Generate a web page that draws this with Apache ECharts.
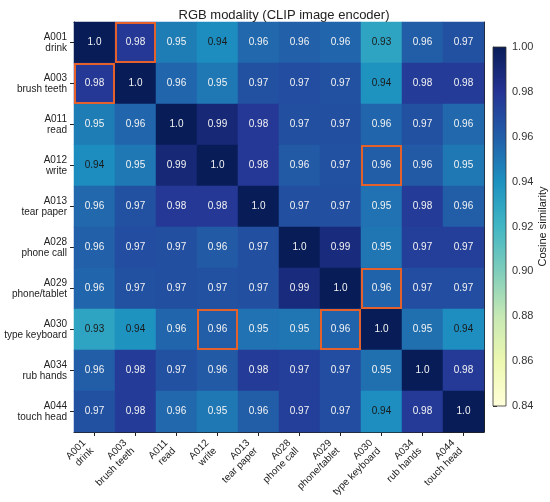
<!DOCTYPE html>
<html>
<head>
<meta charset="utf-8">
<script src="https://cdn.jsdelivr.net/npm/echarts@6/dist/echarts.min.js"></script>
<style>
html,body{margin:0;padding:0;background:#fff;}
#chart{width:550px;height:502px;}
</style>
</head>
<body>
<div id="chart"></div>
<script>
// ---- Data ----
const codes = ['A001','A003','A011','A012','A013','A028','A029','A030','A034','A044'];
const names = ['drink','brush teeth','read','write','tear paper','phone call','phone/tablet','type keyboard','rub hands','touch head'];
const rowA001 = [1.0, 0.978, 0.948, 0.942, 0.956, 0.959, 0.957, 0.930, 0.960, 0.966];
const rowA003 = [0.978, 1.0, 0.957, 0.950, 0.966, 0.968, 0.966, 0.939, 0.976, 0.976];
const rowA011 = [0.948, 0.957, 1.0, 0.990, 0.978, 0.967, 0.967, 0.957, 0.966, 0.956];
const rowA012 = [0.942, 0.950, 0.990, 1.0, 0.978, 0.962, 0.966, 0.960, 0.962, 0.950];
const rowA013 = [0.956, 0.966, 0.978, 0.978, 1.0, 0.967, 0.967, 0.952, 0.976, 0.960];
const rowA028 = [0.959, 0.968, 0.967, 0.962, 0.967, 1.0, 0.988, 0.951, 0.975, 0.975];
const rowA029 = [0.957, 0.966, 0.967, 0.966, 0.967, 0.988, 1.0, 0.958, 0.968, 0.968];
const rowA030 = [0.930, 0.939, 0.957, 0.960, 0.952, 0.951, 0.958, 1.0, 0.953, 0.941];
const rowA034 = [0.960, 0.976, 0.966, 0.962, 0.976, 0.975, 0.968, 0.953, 1.0, 0.977];
const rowA044 = [0.966, 0.976, 0.956, 0.950, 0.960, 0.975, 0.968, 0.941, 0.977, 1.0];
const matrix = [rowA001,rowA003,rowA011,rowA012,rowA013,rowA028,rowA029,rowA030,rowA034,rowA044];
// highlighted cells: [column code, row code]
const highlights = [['A003','A001'],['A001','A003'],['A030','A012'],['A030','A029'],['A012','A030'],['A029','A030']];
const cbTicks = [0.84,0.86,0.88,0.90,0.92,0.94,0.96,0.98,1.00];
const cmap = ['#ffffd9','#edf8b1','#c7e9b4','#7fcdbb','#41b6c4','#1d91c0','#225ea8','#253494','#081d58'];
const vmin = 0.84, vmax = 1.0;

// ---- Build ----
const labels = codes.map((c,i)=>c+'\n'+names[i]);
const fmt = v => { const r = Number(v.toFixed(2)); return r === 1 ? '1.0' : r.toFixed(2); };
const heatData = [];
matrix.forEach((row, ri) => row.forEach((v, ci) => {
  heatData.push({value:[ci, ri, v], label:{color: v < 0.945 ? '#1a1a1a' : '#f4f4f4'}});
}));
const hlData = highlights.map(h => [codes.indexOf(h[0]), codes.indexOf(h[1])]);
const FONT = '"Liberation Sans", Arial, sans-serif';
const ink = '#222';

const chart = echarts.init(document.getElementById('chart'), null, {renderer:'canvas'});
chart.setOption({
  animation:false,
  backgroundColor:'#fff',
  textStyle:{fontFamily:FONT},
  title:{text:'RGB modality (CLIP image encoder)', left:279, top:4, textAlign:'center',
    textStyle:{fontSize:13, fontWeight:'normal', color:ink, fontFamily:FONT}},
  grid:[
    {left:74, top:22, width:410, height:410, outerBoundsMode:'none', containLabel:false},
    {left:493, top:47, width:13, height:359, outerBoundsMode:'none', containLabel:false}
  ],
  xAxis:[
    {type:'category', gridIndex:0, data:labels, position:'bottom',
     axisLine:{show:true, lineStyle:{color:ink, width:1}},
     axisTick:{show:true, alignWithLabel:true, length:4, lineStyle:{color:ink}},
     axisLabel:{rotate:45, fontSize:10, lineHeight:11, color:ink, margin:7, interval:0, fontFamily:FONT, padding:[0,9,0,0]},
     splitLine:{show:false}},
    {type:'category', gridIndex:0, data:labels, position:'top',
     axisLine:{show:true, lineStyle:{color:ink, width:1}}, axisTick:{show:false}, axisLabel:{show:false}},
    {type:'value', gridIndex:1, min:0, max:1, show:false}
  ],
  yAxis:[
    {type:'category', gridIndex:0, data:labels, inverse:true, position:'left',
     axisLine:{show:true, lineStyle:{color:ink, width:1}},
     axisTick:{show:true, alignWithLabel:true, length:4, lineStyle:{color:ink}},
     axisLabel:{fontSize:10, lineHeight:11, color:ink, margin:7, align:'right', interval:0, fontFamily:FONT},
     splitLine:{show:false}},
    {type:'category', gridIndex:0, data:labels, inverse:true, position:'right',
     axisLine:{show:true, lineStyle:{color:ink, width:1}}, axisTick:{show:false}, axisLabel:{show:false}},
    {type:'value', gridIndex:1, min:vmin, max:vmax, interval:0.02, position:'right',
     axisLine:{show:true, lineStyle:{color:'#333', width:0.8}},
     axisTick:{show:true, length:4, lineStyle:{color:'#333'}},
     axisLabel:{fontSize:11, color:'#333', margin:6, fontFamily:FONT, formatter:v=>v.toFixed(2)},
     splitLine:{show:false},
     name:'Cosine similarity', nameLocation:'middle', nameRotate:90, nameGap:29,
     nameTextStyle:{fontSize:11, color:ink, fontFamily:FONT}}
  ],
  visualMap:{type:'continuous', min:vmin, max:vmax, dimension:2, seriesIndex:0, show:false,
    inRange:{color:cmap}},
  series:[
    {type:'heatmap', xAxisIndex:0, yAxisIndex:0, data:heatData,
     label:{show:true, fontSize:10, fontFamily:FONT, formatter:p=>fmt(p.value[2])},
     emphasis:{disabled:true}},
    {type:'custom', xAxisIndex:0, yAxisIndex:0, data:hlData, z:5, silent:true,
     renderItem:(params, api)=>{
       const c = api.coord([api.value(0), api.value(1)]);
       const s = api.size([1,1]);
       return {type:'rect', shape:{x:c[0]-s[0]/2+1, y:c[1]-s[1]/2+1, width:s[0]-2, height:s[1]-2},
         style:{fill:'none', stroke:'#e4612c', lineWidth:2}};
     }},
    {type:'custom', xAxisIndex:2, yAxisIndex:2, data:[[0.5, vmin]], silent:true,
     renderItem:(params, api)=>{
       const cs = params.coordSys;
       const stops = cmap.map((col,i)=>({offset:i/(cmap.length-1), color:col}));
       return {type:'rect', shape:{x:cs.x, y:cs.y, width:cs.width, height:cs.height},
         style:{fill:new echarts.graphic.LinearGradient(0,1,0,0,stops), stroke:'#333', lineWidth:0.8}};
     }}
  ]
});
</script>
</body>
</html>
